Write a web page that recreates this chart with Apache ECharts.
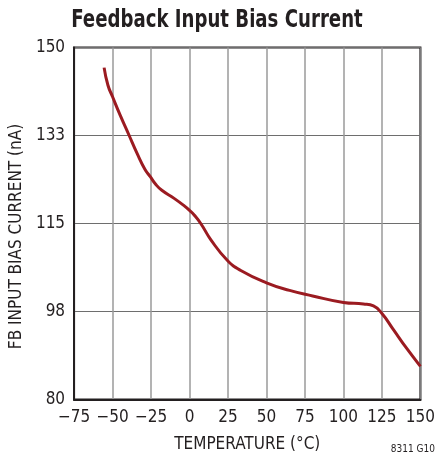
<!DOCTYPE html>
<html>
<head>
<meta charset="utf-8">
<script src="https://cdn.jsdelivr.net/npm/echarts@6/dist/echarts.min.js"></script>
<style>html,body{margin:0;padding:0;background:#fff}#c{width:438px;height:464px}</style>
</head>
<body>
<div id="c"></div>
<script>
var titleText = 'Feedback Input Bias Current';
var xName = 'TEMPERATURE (°C)';
var yName = 'FB INPUT BIAS CURRENT (nA)';
var noteText = '8311 G10';
var temperature = [-55.5, -53, -50, -45, -39.5, -34, -29, -25.5, -22, -18, -10, -3, 0, 3, 7.5, 14, 24.5, 33, 50, 65, 80, 100, 113, 119.5, 125, 132, 141, 150];
var biasCurrent = [146, 142.5, 140.2, 136.5, 132.7, 128.9, 125.8, 124.3, 122.8, 121.6, 120.0, 118.4, 117.6, 116.7, 114.9, 111.7, 107.7, 105.7, 103.2, 101.7, 100.6, 99.3, 99.0, 98.6, 97.1, 94.1, 90.2, 86.6];
var xMin = -75, xMax = 150, xStep = 25;
var yMin = 80, yMax = 150, yStep = 17.5;

var font = '"DejaVu Sans Condensed", "Liberation Sans", sans-serif';
var ink = '#231f20';
var chart = echarts.init(document.getElementById('c'));
var pts = temperature.map(function (t, i) { return [t, biasCurrent[i]]; });
chart.setOption({
  animation: false,
  graphic: [{
    type: 'text', x: 217, y: 9, scaleX: 0.84, scaleY: 1,
    style: { text: titleText, textAlign: 'center', textVerticalAlign: 'top',
      fontFamily: font, fontWeight: 'bold', fontSize: 24, fill: ink }
  }, {
    type: 'text', right: 3, top: 444,
    style: { text: noteText, fontFamily: font, fontSize: 10, fill: ink }
  }],
  grid: { left: 71.5, right: 15, top: 47.5, bottom: 64.5, show: true, borderColor: ink, borderWidth: 2, backgroundColor: 'transparent' },
  xAxis: {
    type: 'value', min: xMin, max: xMax, interval: xStep,
    name: xName, nameLocation: 'middle', nameGap: 37,
    nameTextStyle: { fontFamily: font, fontSize: 17, color: ink },
    axisLine: { show: true, onZero: false, lineStyle: { color: ink, width: 2 } },
    axisTick: { show: false },
    axisLabel: {
      margin: 10, fontFamily: font, fontSize: 17, color: ink,
      formatter: function (v) { return v < 0 ? '\u2212' + Math.abs(v) : String(v); }
    },
    splitLine: { show: true, lineStyle: { color: '#9a9a9a', width: 1.5 } }
  },
  yAxis: {
    type: 'value', min: yMin, max: yMax, interval: yStep,
    name: yName, nameLocation: 'middle', nameGap: 48,
    nameTextStyle: { fontFamily: font, fontSize: 17, color: ink, padding: [0, 26, 0, 0] },
    axisLine: { show: true, onZero: false, lineStyle: { color: ink, width: 2 } },
    axisTick: { show: false },
    axisLabel: {
      margin: 9, fontFamily: font, fontSize: 17, color: ink,
      formatter: function (v) { return String(Math.round(v)); }
    },
    splitLine: { show: true, lineStyle: { color: '#6e6e6e', width: 1 } }
  },
  series: [{
    type: 'line', data: pts, smooth: 0.5, showSymbol: false,
    lineStyle: { color: '#9b1b21', width: 3 }
  }]
});
</script>
</body>
</html>
